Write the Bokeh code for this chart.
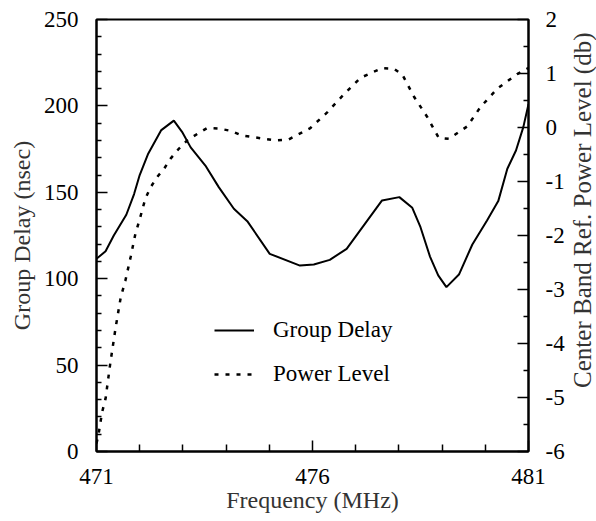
from bokeh.plotting import figure
from bokeh.layouts import row
from bokeh.models import (Range1d, LinearAxis, FixedTicker, Legend, LegendItem,
                          PrintfTickFormatter, Label)
from bokeh.embed import file_html
from bokeh.resources import INLINE

# Group delay (nsec), left axis
gd_freq = [471.0, 471.21, 471.40, 471.69, 471.87, 472.0, 472.19, 472.50, 472.79,
           472.98, 473.18, 473.52, 473.83, 474.18, 474.49, 475.01, 475.71, 476.03,
           476.40, 476.79, 477.61, 478.01, 478.31, 478.50, 478.72, 478.91, 479.10,
           479.39, 479.70, 480.04, 480.30, 480.51, 480.71, 480.88, 481.0]
gd_val = [111.5, 115.9, 125, 137, 149, 160, 172, 186, 191.5,
          185, 176, 165.5, 153, 140.5, 133.3, 114.4, 107.6, 108.2,
          110.9, 117.3, 145.3, 147.2, 141, 129.8, 112.8, 101.9, 95.1,
          102.4, 119.8, 133.7, 144.9, 163.6, 174.2, 187.7, 201]

# Power level (dB), right axis
pw_freq = [471.0, 471.05, 471.13, 471.21, 471.32, 471.44, 471.56, 471.67, 471.79,
           471.90, 472.0, 472.13, 472.25, 472.40, 472.56, 472.71, 472.91, 473.10,
           473.33, 473.56, 473.83, 474.10, 474.37, 474.64, 475.14, 475.45, 475.95,
           476.34, 476.72, 477.11, 477.61, 477.88, 478.08, 478.35, 478.66, 478.92,
           479.16, 479.58, 479.89, 480.28, 480.74, 480.97, 481.0]
pw_val = [-5.85, -5.67, -5.27, -5.02, -4.36, -3.72, -3.15, -2.83, -2.40,
          -1.97, -1.70, -1.32, -1.11, -0.92, -0.77, -0.58, -0.39, -0.24,
          -0.12, -0.01, -0.02, -0.06, -0.15, -0.18, -0.24, -0.22, -0.01,
          0.28, 0.61, 0.92, 1.10, 1.09, 0.98, 0.57, 0.19, -0.19,
          -0.21, 0.02, 0.38, 0.72, 0.99, 1.09, 1.10]

x_ticks = [471, 476, 481]
x_minor = [472, 473, 474, 475, 477, 478, 479, 480]
yl_ticks = [0, 50, 100, 150, 200, 250]
yl_minor = [v for v in range(0, 251, 10) if v % 50 != 0]
yr_ticks = [-6, -5, -4, -3, -2, -1, 0, 1, 2]
yr_minor = [-5.5, -4.5, -3.5, -2.5, -1.5, -0.5, 0.5, 1.5]

FONT = "Liberation Serif"
LABEL_COLOR = "#333333"
FRAME = 432
TOP, BOTTOM = 19, 70
HEIGHT = TOP + FRAME + BOTTOM

p = figure(frame_width=FRAME, frame_height=FRAME,
           min_border_left=96, min_border_right=40, min_border_top=TOP,
           min_border_bottom=BOTTOM,
           x_range=Range1d(471, 481), y_range=Range1d(0, 250),
           output_backend="svg", toolbar_location=None,
           x_axis_label="Frequency (MHz)", y_axis_label="Group Delay (nsec)")
p.extra_y_ranges = {"pw": Range1d(-6, 2)}
p.xgrid.visible = False
p.ygrid.visible = False
p.outline_line_color = "black"
p.outline_line_width = 2
p.outline_line_alpha = 1

r_axis = LinearAxis(y_range_name="pw", formatter=PrintfTickFormatter(format="%d"))
p.add_layout(r_axis, "right")


def style(ax, ticks, minor, standoff, lab_standoff):
    ax.ticker = FixedTicker(ticks=ticks, minor_ticks=minor)
    ax.axis_line_width = 2
    ax.axis_line_color = "black"
    ax.major_tick_in = 11
    ax.major_tick_out = 0
    ax.minor_tick_in = 5
    ax.minor_tick_out = 0
    ax.major_tick_line_width = 1.5
    ax.minor_tick_line_width = 1.5
    ax.major_label_text_font = FONT
    ax.major_label_text_font_size = "23px"
    ax.major_label_text_color = "black"
    ax.major_label_standoff = standoff
    ax.axis_label_text_font = FONT
    ax.axis_label_text_font_size = "24px"
    ax.axis_label_text_font_style = "normal"
    ax.axis_label_text_color = LABEL_COLOR
    ax.axis_label_standoff = lab_standoff


style(p.xaxis[0], x_ticks, x_minor, 17, 0)
p.xaxis[0].minor_tick_in = 7
style(p.yaxis[0], yl_ticks, yl_minor, 18, 6)
style(r_axis, yr_ticks, yr_minor, 17, 7)

r1 = p.line(gd_freq, gd_val, line_color="black", line_width=2)
r2 = p.line(pw_freq, pw_val, y_range_name="pw", line_color="black",
            line_width=2.5, line_dash="4 7")

legend = Legend(items=[LegendItem(label="Group Delay", renderers=[r1]),
                       LegendItem(label="Power Level", renderers=[r2])],
                location=(118, 64), orientation="vertical",
                border_line_alpha=0, background_fill_alpha=0,
                padding=0, margin=0, spacing=18,
                glyph_width=40, glyph_height=20, label_height=20,
                label_standoff=19, label_text_font=FONT,
                label_text_font_size="23px", label_text_color="black")
p.add_layout(legend)

# narrow strip holding the right-hand axis title, reading bottom-to-top
t = figure(width=28, height=HEIGHT, min_border=0,
           x_range=Range1d(0, 1), y_range=Range1d(0, HEIGHT),
           x_axis_location=None, y_axis_location=None,
           output_backend="svg", toolbar_location=None)
t.outline_line_color = None
t.xgrid.visible = False
t.ygrid.visible = False
t.add_layout(Label(x=0.5, y=HEIGHT - 230, angle=90, angle_units="deg",
                   text="Center Band Ref. Power Level (db)",
                   text_align="center", text_baseline="middle",
                   text_font=FONT, text_font_size="25px", text_color=LABEL_COLOR))

layout = row(p, t, spacing=0)
open("out.html", "w").write(file_html(layout, INLINE))
